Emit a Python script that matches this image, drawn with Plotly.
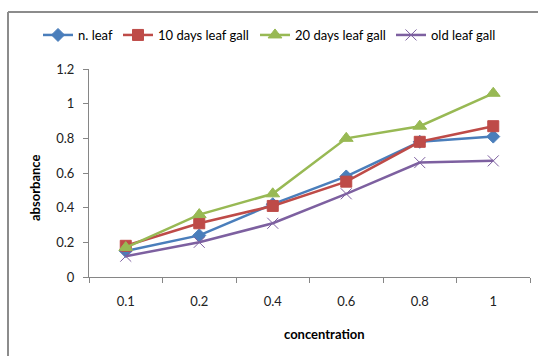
import plotly.graph_objects as go

categories = ["0.1", "0.2", "0.4", "0.6", "0.8", "1"]
n_leaf = [0.15, 0.24, 0.42, 0.58, 0.78, 0.81]
days10_gall = [0.18, 0.31, 0.41, 0.55, 0.78, 0.87]
days20_gall = [0.17, 0.36, 0.48, 0.80, 0.87, 1.06]
old_gall = [0.12, 0.20, 0.31, 0.48, 0.66, 0.67]

series = [
    ("n. leaf", n_leaf, "#4A7EBB", "diamond", 10),
    ("10 days leaf gall", days10_gall, "#BE4B48", "square", 11),
    ("20 days leaf gall", days20_gall, "#98B954", "triangle-up", 12),
    ("old leaf gall", old_gall, "#7D60A0", "x-thin", 11),
]
legend_starts = [43, 123, 260, 396]

FONT = "Lato"
W, H = 538, 356
fig = go.Figure()
legend_layouts = {}
for i, (name, vals, color, sym, size) in enumerate(series):
    lname = "legend" if i == 0 else f"legend{i+1}"
    fig.add_trace(go.Scatter(
        x=categories, y=vals, name=name, mode="lines+markers",
        line=dict(color=color, width=2.5),
        marker=dict(symbol=sym, size=size, color=color,
                    line=dict(color=color, width=1)),
        legend=lname,
    ))
    legend_layouts[lname] = dict(
        orientation="h", xref="container", yref="container",
        x=(legend_starts[i] - 5) / W, y=1 - 35 / H,
        xanchor="left", yanchor="middle",
        font=dict(family=FONT, size=13, color="#000"),
        bgcolor="rgba(0,0,0,0)", borderwidth=0,
    )

L, R, T, B = 89, 8, 69, 79
pw, ph = W - L - R, H - T - B

def px(x):
    return (x - L) / pw

def py(y):
    return (H - B - y) / ph

fig.update_layout(
    width=W, height=H,
    margin=dict(l=L, r=R, t=T, b=B),
    paper_bgcolor="white", plot_bgcolor="white",
    font=dict(family=FONT, size=13, color="#000000"),
    showlegend=True,
    xaxis=dict(type="category", tickson="boundaries", ticks="outside",
               ticklen=5, tickcolor="#868686", showline=True,
               linecolor="#868686", linewidth=1, showgrid=False,
               tickfont=dict(family=FONT, size=13, color="#222"),
               ticklabelstandoff=12,
               range=[-0.5, 5.5], fixedrange=True),
    yaxis=dict(range=[0, 1.2], dtick=0.2, ticks="outside", ticklen=5,
               tickcolor="#868686", showline=True, linecolor="#868686",
               linewidth=1, showgrid=False, zeroline=False,
               tickfont=dict(family=FONT, size=13, color="#222"),
               ticklabelstandoff=6,
               tickformat="~g"),
    shapes=[
        dict(type="line", xref="paper", yref="paper",
             x0=px(8), x1=px(8), y0=py(12), y1=py(H + 5),
             line=dict(color="#8c8c8c", width=2)),
        dict(type="line", xref="paper", yref="paper",
             x0=px(8), x1=px(W + 5), y0=py(12), y1=py(12),
             line=dict(color="#8c8c8c", width=2)),
    ],
    annotations=[
        dict(text="<b>absorbance</b>", xref="paper", yref="paper",
             x=px(35), y=py(188), textangle=-90, showarrow=False,
             xanchor="center", yanchor="middle",
             font=dict(family=FONT, size=13)),
        dict(text="<b>concentration</b>", xref="paper", yref="paper",
             x=px(324), y=py(334), showarrow=False,
             xanchor="center", yanchor="middle",
             font=dict(family=FONT, size=13)),
    ],
    **legend_layouts,
)

fig.write_html("out.html")
